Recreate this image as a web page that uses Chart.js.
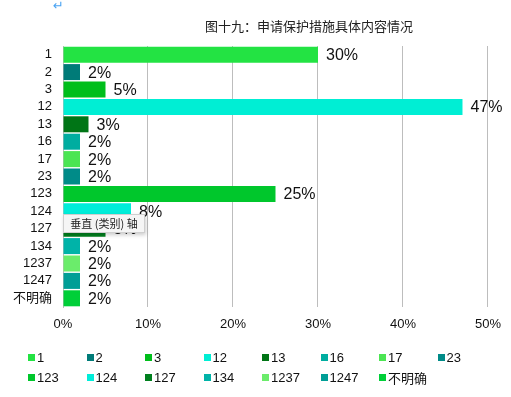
<!DOCTYPE html>
<html>
<head>
<meta charset="utf-8">
<script src="https://cdn.jsdelivr.net/npm/chart.js@4.4.1/dist/chart.umd.min.js"></script>
<style>
  html, body { margin: 0; padding: 0; background: #fff; }
  #wrap { position: relative; width: 511px; height: 397px; font-family: "Liberation Sans", "Noto Sans CJK SC", sans-serif; }
  #title { position: absolute; left: 0; width: 618px; top: 16px; text-align: center; font: 13px "Noto Sans CJK SC", sans-serif; color: #222; }
  #mark { position: absolute; left: 53px; top: -2px; font: 13px "DejaVu Sans", sans-serif; color: #4aa3f2; }
  #legend { position: absolute; left: 28px; top: 347px; width: 480px; display: flex; flex-wrap: wrap; }
  .item { width: 58.5px; height: 20px; font-size: 13px; color: #111; white-space: nowrap; display: flex; align-items: center; }
  .box { width: 7px; height: 7px; margin-right: 2px; }
  #tip { position: absolute; left: 63px; top: 214px; width: 80px; height: 17px; background: #f5f5f5; border: 1px solid #cfcfcf;
         box-shadow: 1px 2px 4px rgba(0,0,0,0.2); font: 11px "Noto Sans CJK SC", sans-serif; color: #222; line-height: 17px;
         text-align: center; white-space: pre; }
</style>
</head>
<body>
<div id="wrap">
  <canvas id="chart1"></canvas>
  <div id="mark">↵</div>
  <div id="title">图十九：申请保护措施具体内容情况</div>
  <div id="legend"></div>
  <div id="tip">垂直 (类别) 轴</div>
</div>
<script>
const categories = ['1', '2', '3', '12', '13', '16', '17', '23', '123', '124', '127', '134', '1237', '1247', '不明确'];
const values = [30, 2, 5, 47, 3, 2, 2, 2, 25, 8, 5, 2, 2, 2, 2];
const colors = ['#23e343', '#007b78', '#00be1b', '#00eed4', '#007516', '#00ada0', '#4be553', '#008b88',
  '#00c72c', '#00edd9', '#00801e', '#00b3a8', '#6bec6b', '#009e96', '#00cf38'];
const xTicks = [0, 10, 20, 30, 40, 50];

const gridColor = '#bdbdbd';

// value labels to the right of each bar
const barLabels = {
  id: 'barLabels',
  afterDatasetsDraw(chart) {
    const ctx = chart.ctx;
    const meta = chart.getDatasetMeta(0);
    ctx.save();
    ctx.font = '16px "Liberation Sans", sans-serif';
    ctx.fillStyle = '#111';
    ctx.textBaseline = 'middle';
    ctx.textAlign = 'left';
    meta.data.forEach((bar, i) => {
      ctx.fillText(values[i] + '%', bar.x + 8, bar.y + 1);
    });
    ctx.restore();
  }
};

new Chart(document.getElementById('chart1'), {
  type: 'bar',
  data: {
    labels: categories,
    datasets: [{
      data: values,
      backgroundColor: colors,
      borderWidth: 0,
      barPercentage: 0.92,
      categoryPercentage: 1
    }]
  },
  options: {
    indexAxis: 'y',
    responsive: true,
    maintainAspectRatio: false,
    animation: false,
    layout: { padding: { top: 46, right: 23, bottom: 65, left: 0 } },
    plugins: { legend: { display: false }, tooltip: { enabled: false } },
    scales: {
      x: {
        min: 0,
        max: 50,
        afterBuildTicks: (s) => { s.ticks = xTicks.map((v) => ({ value: v })); },
        afterFit: (s) => { s.height = 25; },
        grid: { color: gridColor, drawTicks: false },
        border: { display: false },
        ticks: { color: '#111', padding: 10, font: { size: 13, family: '"Liberation Sans", sans-serif' }, callback: (v) => v + '%' }
      },
      y: {
        afterFit: (s) => { s.width = 63; },
        grid: { display: false, drawTicks: false },
        border: { display: true, color: gridColor },
        ticks: { color: '#111', padding: 11, autoSkip: false, font: { size: 13, family: '"Liberation Sans", "Noto Sans CJK SC", sans-serif' } }
      }
    }
  },
  plugins: [barLabels]
});

const legend = document.getElementById('legend');
categories.forEach((cat, i) => {
  const item = document.createElement('div');
  item.className = 'item';
  const box = document.createElement('span');
  box.className = 'box';
  box.style.background = colors[i];
  item.appendChild(box);
  item.appendChild(document.createTextNode(cat));
  legend.appendChild(item);
});
</script>
</body>
</html>
